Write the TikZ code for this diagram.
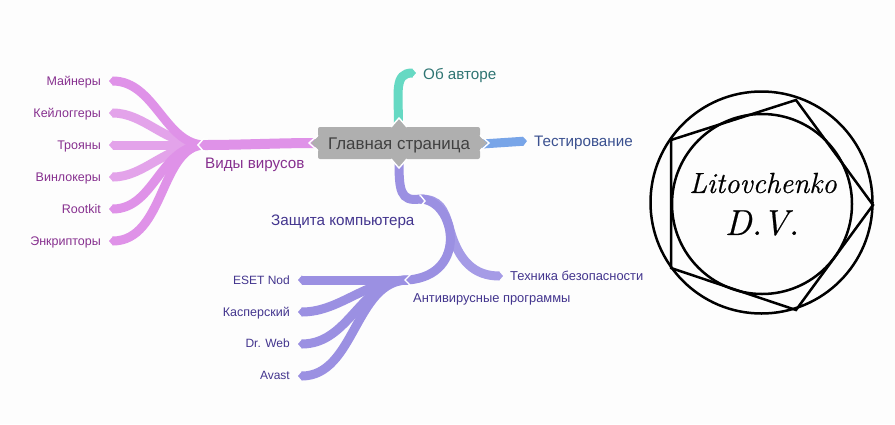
\documentclass[tikz,border=0pt]{standalone}
\usepackage{fontspec}
\setmainfont{Liberation Sans}
\newfontfamily\logofont[Ligatures=TeX,FakeBold=0.6]{Latin Modern Roman}
\usetikzlibrary{arrows.meta}
\definecolor{pinkb}{HTML}{DF92E8}
\definecolor{pinkc}{HTML}{E3A3EA}
\definecolor{tealb}{HTML}{66D9C3}
\definecolor{blueb}{HTML}{78A5E8}
\definecolor{violb}{HTML}{9B90E2}
\definecolor{viola}{HTML}{A59BE6}
\definecolor{boxg}{HTML}{AFAFAF}
\definecolor{pinkt}{HTML}{87308F}
\definecolor{vialt}{HTML}{43358E}
\definecolor{tealt}{HTML}{2F7573}
\definecolor{bluet}{HTML}{3B5190}
\tikzset{x=1pt,y=-1pt,
  branch/.style={draw=#1,line width=9pt,line cap=butt,-{Triangle[width=9pt,length=4pt,color=#1]}},
  label/.style={inner sep=0pt,font=\fontsize{12.5}{14}\selectfont,text=#1},
  latinlabel/.style={inner sep=0pt,font=\fontsize{12}{14}\selectfont,text=#1},
  widelabel/.style={inner sep=0pt,font=\fontsize{12.9}{14}\selectfont,text=#1},
  biglabel/.style={inner sep=0pt,font=\fontsize{15.2}{17}\selectfont,text=#1},
  chev/.style={draw=white,line width=1.4pt,line join=miter,fill=none},
  logoline/.style={draw=black,line width=2.5pt,fill=none},
  logotext/.style={inner sep=0pt,font=\logofont\itshape\fontsize{#1}{#1}\selectfont,text=black}
}
\begin{document}
\begin{tikzpicture}
\useasboundingbox[fill=white!99.3!black] (0,0) rectangle (895,424);
% anchors
\coordinate (hubL) at (205,145);
\coordinate (mainL) at (315,143);
\coordinate (hubB) at (399,160);
\coordinate (hubB2) at (420,199);
\coordinate (split) at (449,226);
\coordinate (hubA) at (408,280);
\coordinate (tipA) at (109,81);
\coordinate (tipB) at (109,113);
\coordinate (tipC) at (109,145);
\coordinate (tipD) at (109,177);
\coordinate (tipE) at (109,209);
\coordinate (tipF) at (109,241);
\coordinate (tipTop) at (416,73);
\coordinate (tipRight) at (527,141);
\coordinate (tipTech) at (503,276);
\coordinate (tipN) at (298,280);
\coordinate (tipK) at (298,312);
\coordinate (tipW) at (298,344);
\coordinate (tipV) at (298,376);
% pink
\draw[branch=pinkc] (hubL) .. controls (165,145) and (145,113) .. (tipB);
\draw[branch=pinkc] (hubL) -- (tipC);
\draw[branch=pinkc] (hubL) .. controls (165,145) and (145,177) .. (tipD);
\draw[branch=pinkb] (hubL) .. controls (165,145) and (155,81) .. (tipA);
\draw[branch=pinkb] (hubL) .. controls (160,145) and (155,209) .. (tipE);
\draw[branch=pinkb] (hubL) .. controls (160,145) and (165,241) .. (tipF);
\draw[pinkb,line width=10pt] (mainL) .. controls (280,143) and (240,145) .. (hubL);
\fill[white] (205,138) -- (199,145) -- (205,152) -- (204,153) -- (197,145) -- (204,137) -- cycle;
% top and right
\draw[branch=tealb] (398.5,125) .. controls (398.5,92) and (394,73) .. (tipTop);
\draw[branch=blueb] (482,144) -- (tipRight);
% bottom
\draw[branch=viola] (hubB2) .. controls (440,199) and (444,210) .. (split) .. controls (458,262) and (475,276) .. (tipTech);
\draw[branch=violb] (hubA) -- (tipN);
\draw[branch=violb] (hubA) .. controls (365,280) and (340,312) .. (tipK);
\draw[branch=violb] (hubA) .. controls (360,280) and (350,344) .. (tipW);
\draw[branch=violb] (hubA) .. controls (355,280) and (355,376) .. (tipV);
\draw[violb,line width=9pt] (hubB2) .. controls (455,199) and (470,275) .. (hubA);
\draw[violb,line width=9pt] (hubB) .. controls (399,190) and (400,202) .. (hubB2);
\draw[chev] (420,195) -- (425,201) -- (420,207);
\draw[chev] (411,274) -- (405,280) -- (411,286);
% centre
\fill[boxg] (311,143) -- (320,135) -- (320,151) -- cycle;
\fill[boxg] (487,143) -- (478,135) -- (478,151) -- cycle;
\fill[boxg] (399,119) -- (391,128) -- (407,128) -- cycle;
\fill[boxg] (399,167) -- (391,158) -- (407,158) -- cycle;
\node[draw=none,fill=boxg,rounded corners=2pt,minimum width=162pt,minimum height=32pt,inner sep=0pt,
  text height=12pt,text depth=0pt,
  font=\fontsize{16.9}{19}\selectfont,text=black!75] (main) at (399,143) {Главная страница};
\draw[chev] (318,135) -- (309,143) -- (318,151);
\draw[chev] (480,135) -- (489,143) -- (480,151);
\draw[chev] (391,127) -- (399,118) -- (407,127);
\draw[chev] (391,159) -- (399,168) -- (407,159);
% labels
\node[label=pinkt,anchor=east] (n1) at (101,82) {Майнеры};
\node[label=pinkt,anchor=east] (n2) at (101,114) {Кейлоггеры};
\node[label=pinkt,anchor=east] (n3) at (101,146) {Трояны};
\node[label=pinkt,anchor=east] (n4) at (101,178) {Винлокеры};
\node[label=pinkt,anchor=east] (n5) at (101,209) {Rootkit};
\node[label=pinkt,anchor=east] (n6) at (101,242) {Энкрипторы};
\node[biglabel=pinkt,anchor=west] (virus) at (205,165) {Виды вирусов};
\node[biglabel=tealt,anchor=west] (author) at (423,75) {Об авторе};
\node[biglabel=bluet,anchor=west] (test) at (534,143) {Тестирование};
\node[biglabel=vialt,anchor=west] (prot) at (271,222) {Защита компьютера};
\node[widelabel=vialt,anchor=west] (tech) at (510,276) {Техника безопасности};
\node[widelabel=vialt,anchor=west] (anti) at (413,299) {Антивирусные программы};
\node[latinlabel=vialt,anchor=east] (m1) at (290,280) {ESET Nod};
\node[label=vialt,anchor=east] (m2) at (290,313) {Касперский};
\node[latinlabel=vialt,anchor=east] (m3) at (290,343) {Dr. Web};
\node[latinlabel=vialt,anchor=east] (m4) at (290,375) {Avast};
% logo
\draw[logoline] (761.5,202.5) circle (111);
\draw[logoline] (762,204) circle (90);
\draw[logoline,line join=miter] (873,205) -- (796,100) -- (671,140) -- (671,268) -- (796,310) -- cycle;
\node[logotext=29] (l1) at (763,183) {Litovchenko};
\node[logotext=36] (l2) at (762,223) {D.V.};
\end{tikzpicture}
\end{document}
